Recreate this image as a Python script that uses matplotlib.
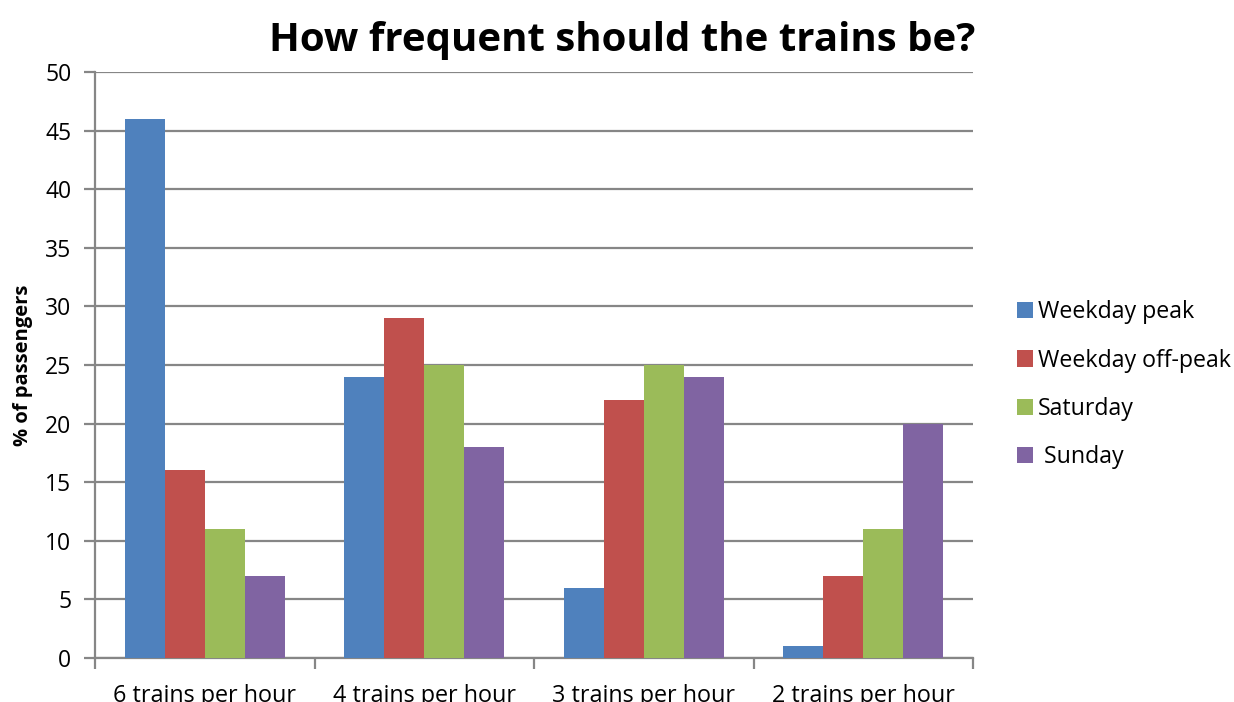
import matplotlib
matplotlib.use("Agg")
import matplotlib.pyplot as plt
import numpy as np

categories = ["6 trains per hour", "4 trains per hour", "3 trains per hour", "2 trains per hour"]
series_names = ["Weekday peak", "Weekday off-peak", "Saturday", " Sunday"]
weekday_peak = [46, 24, 6, 1]
weekday_offpeak = [16, 29, 22, 7]
saturday = [11, 25, 25, 11]
sunday = [7, 18, 24, 20]
colors = ["#4F81BD", "#C0504D", "#9BBB59", "#8064A2"]

plt.rcParams["font.family"] = ["Open Sans", "DejaVu Sans"]

fig = plt.figure(figsize=(12.34, 7.02), dpi=100)
ax = fig.add_axes([0.077, 0.0627, 0.7115, 0.8347])

series = [weekday_peak, weekday_offpeak, saturday, sunday]
x = np.arange(len(categories))
bw = 0.182
for i, (vals, name, c) in enumerate(zip(series, series_names, colors)):
    ax.bar(x + (i - 1.5) * bw, vals, width=bw, color=c, label=name, zorder=3)

grid_c = "#868686"
ax.set_xlim(-0.5, 3.5)
ax.set_ylim(0, 50)
ax.set_yticks(range(0, 51, 5))
ax.yaxis.grid(True, color=grid_c, linewidth=1.6, zorder=0)
ax.set_axisbelow(True)
for s in ["top", "right"]:
    ax.spines[s].set_visible(False)
for s in ["left", "bottom"]:
    ax.spines[s].set_color(grid_c)
    ax.spines[s].set_linewidth(1.6)

ax.set_xticks(x)
ax.set_xticklabels(categories, fontsize=16.8)
ax.tick_params(axis="x", length=0, pad=19)
ax.set_xticks(np.arange(-0.5, 4.0, 1.0), minor=True)
ax.tick_params(axis="x", which="minor", length=8, width=1.6, color=grid_c)
ax.tick_params(axis="y", length=8, width=1.6, color=grid_c, labelsize=16.5, pad=9)

ax.set_ylabel("% of passengers", fontsize=14.5, fontweight="bold", labelpad=9)

fig.text(0.504, 0.942, "How frequent should the trains be?", fontsize=29,
         fontweight="bold", ha="center", va="center")

leg = ax.legend(loc="center left", bbox_to_anchor=(0.807, 0.452),
                bbox_transform=fig.transFigure, frameon=False, fontsize=16.7,
                handlelength=0.7, handleheight=0.7, handletextpad=0.2,
                labelspacing=1.05)

fig.savefig("out.png", dpi=100)
